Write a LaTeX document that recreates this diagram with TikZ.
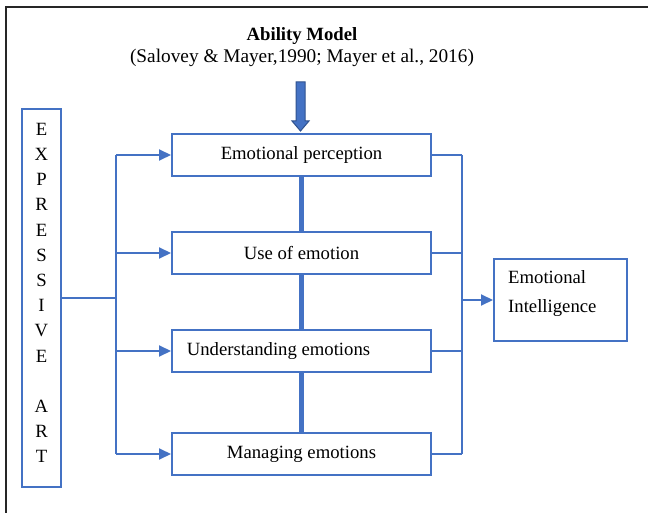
\documentclass[tikz,border=0pt]{standalone}
\usepackage{fontspec}
\setmainfont{Liberation Serif}
\usetikzlibrary{arrows.meta}
\definecolor{eblue}{RGB}{68,114,196}
\definecolor{dblue}{RGB}{47,82,143}
\newcommand{\myfs}{\fontsize{18.7}{22}\selectfont}
\begin{document}
\begin{tikzpicture}[x=1pt,y=-1pt,
  box/.style={draw=eblue, line width=2pt, minimum width=259pt, minimum height=42pt, inner sep=0pt, font=\myfs},
  conn/.style={draw=eblue, line width=2pt},
  arr/.style={conn, -{Triangle[length=12pt,width=11pt]}},
  spine/.style={draw=eblue, line width=5pt}]
\useasboundingbox (0,0) rectangle (648,513);
\fill[white] (0,0) rectangle (648,513);
\draw[black!85, line width=1.5pt] (6,514) -- (6,7) -- (649,7);

\node[font=\myfs\bfseries] (title) at (302,36) {Ability Model};
\node[font=\fontsize{19.3}{22}\selectfont] (cite) at (302,58) {(Salovey \& Mayer,1990; Mayer et al., 2016)};

\draw[draw=dblue, fill=eblue, line width=1pt] (296,82) -- (305,82) -- (305,121) -- (309,121) -- (300.5,131) -- (292,121) -- (296,121) -- cycle;

\node[box] (ep) at (301.5,155) {Emotional perception};
\node[box] (ue) at (301.5,253) {Use of emotion};
\node[box] (un) at (301.5,351) {\hspace*{-46pt}Understanding emotions};
\node[box] (me) at (301.5,454) {Managing emotions};

\draw[spine] (ep.south) -- (ue.north);
\draw[spine] (ue.south) -- (un.north);
\draw[spine] (un.south) -- (me.north);

\node[draw=eblue, line width=2pt, minimum width=39pt, minimum height=378pt, inner sep=0pt] (ea) at (41.5,298) {};
\node[font=\fontsize{18.7}{25.2}\selectfont, align=center, inner sep=0pt] (eat) at (41.5,293) {E\\X\\P\\R\\E\\S\\S\\I\\V\\E\\\mbox{}\\A\\R\\T};

\node[box, minimum width=133pt, minimum height=82pt] (ei) at (560.5,300) {};
\node[anchor=west, align=left, inner sep=0pt, font=\fontsize{18.7}{29}\selectfont] (eitxt) at (508,293.5) {Emotional\\Intelligence};

% left bus
\coordinate (lbt) at (116,155);
\coordinate (lbb) at (116,454);
\draw[conn] (ea.east) -- (ea.east -| lbt);
\draw[conn] (lbt) -- (lbb);
\draw[arr] (lbt) -- (ep.west);
\draw[arr] (lbt |- ue.west) -- (ue.west);
\draw[arr] (lbt |- un.west) -- (un.west);
\draw[arr] (lbb) -- (me.west);

% right bus
\coordinate (rbt) at (462,155);
\coordinate (rbb) at (462,454);
\draw[conn] (ep.east) -- (rbt);
\draw[conn] (ue.east) -- (ue.east -| rbt);
\draw[conn] (un.east) -- (un.east -| rbt);
\draw[conn] (me.east) -- (rbb);
\draw[conn] (rbt) -- (rbb);
\draw[arr] (ei.west -| rbt) -- (ei.west);
\end{tikzpicture}
\end{document}
